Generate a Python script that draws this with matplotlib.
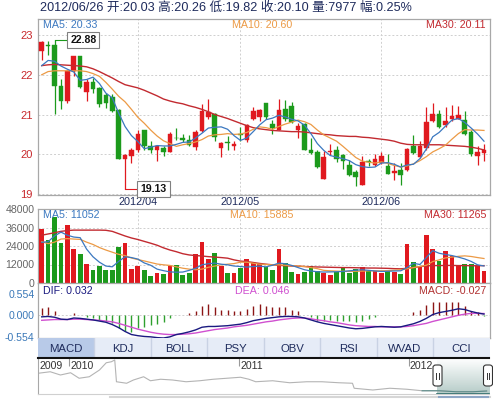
import numpy as np
import matplotlib.pyplot as plt
from matplotlib.colors import LinearSegmentedColormap
from matplotlib.patches import Rectangle, FancyBboxPatch

plt.rcParams['font.family'] = ['Liberation Sans', 'Noto Sans CJK SC', 'DejaVu Sans']

# daily candles, 2012/03/12 .. 2012/06/26
opens = [22.61, 22.76, 22.74, 21.71, 21.35, 22.09, 22.46, 21.57, 21.83, 21.66,
         21.48, 21.44, 21.12, 19.89, 19.95, 20.10, 20.60, 20.20, 20.10, 20.15,
         20.07, 20.42, 20.42, 20.37, 20.18, 20.58, 20.93, 21.02, 20.15, 20.30,
         20.20, 20.50, 20.36, 20.90, 20.93, 21.29, 20.76, 20.62, 21.14, 21.21,
         20.60, 20.75, 20.12, 20.06, 19.37, 20.05, 20.12, 19.99, 19.74, 19.55,
         19.24, 19.83, 19.72, 19.78, 19.70, 19.52, 19.60, 19.61, 20.20, 19.93,
         20.16, 20.85, 21.01, 20.73, 20.90, 20.90, 20.87, 20.56, 19.95, 20.03]
highs = [22.84, 22.85, 22.88, 21.90, 22.12, 22.47, 22.47, 21.90, 21.93, 21.70,
         21.54, 21.52, 21.13, 20.01, 20.15, 20.62, 20.62, 20.33, 20.23, 20.20,
         20.56, 20.66, 20.50, 20.48, 20.60, 21.27, 21.38, 21.05, 20.31, 20.45,
         20.33, 20.68, 20.76, 21.18, 21.15, 21.30, 20.86, 21.40, 21.37, 21.32,
         20.79, 20.78, 20.40, 20.10, 20.08, 20.27, 20.20, 20.01, 19.85, 19.60,
         19.95, 19.88, 20.01, 20.06, 20.00, 19.78, 19.78, 20.16, 20.49, 20.34,
         21.18, 21.29, 21.12, 21.18, 21.24, 21.22, 21.10, 20.60, 20.20, 20.26]
lows = [22.38, 22.50, 21.02, 21.13, 21.29, 21.96, 21.66, 21.33, 21.54, 21.20,
        21.17, 21.06, 19.88, 19.13, 19.79, 20.06, 20.10, 20.04, 19.82, 19.96,
        20.05, 20.35, 20.30, 20.20, 20.12, 20.55, 20.88, 20.33, 19.93, 20.10,
        20.10, 20.34, 20.30, 20.87, 20.85, 20.90, 20.52, 20.60, 20.85, 20.78,
        20.41, 20.10, 20.00, 19.65, 19.37, 19.98, 19.80, 19.62, 19.45, 19.20,
        19.22, 19.70, 19.70, 19.75, 19.50, 19.35, 19.24, 19.58, 20.00, 19.90,
        20.10, 20.80, 20.65, 20.68, 20.85, 20.88, 20.49, 19.95, 19.73, 19.82]
closes = [22.82, 22.73, 21.71, 21.35, 22.09, 22.46, 21.69, 21.82, 21.65, 21.27,
          21.29, 21.08, 19.89, 19.99, 20.12, 20.50, 20.20, 20.10, 20.20, 20.05,
          20.52, 20.40, 20.35, 20.24, 20.56, 21.10, 21.07, 20.43, 20.29, 20.28,
          20.27, 20.48, 20.73, 21.10, 21.12, 20.93, 20.65, 21.12, 20.90, 20.81,
          20.71, 20.12, 20.04, 19.68, 19.93, 20.09, 19.89, 19.84, 19.47, 19.42,
          19.81, 19.81, 19.89, 19.95, 19.51, 19.59, 19.48, 20.14, 20.04, 20.20,
          20.81, 21.01, 20.68, 20.85, 20.96, 20.99, 20.51, 20.01, 20.06, 20.10]

ma5 = [22.23, 22.36, 22.34, 22.22, 22.14, 22.07, 21.86, 21.88, 21.94, 21.78,
       21.54, 21.42, 21.04, 20.70, 20.47, 20.32, 20.14, 20.18, 20.22, 20.21,
       20.21, 20.25, 20.30, 20.31, 20.41, 20.53, 20.66, 20.68, 20.69, 20.63,
       20.47, 20.35, 20.41, 20.57, 20.74, 20.87, 20.91, 20.98, 20.94, 20.88,
       20.84, 20.73, 20.52, 20.27, 20.10, 19.97, 19.93, 19.89, 19.84, 19.74,
       19.69, 19.67, 19.68, 19.78, 19.79, 19.75, 19.68, 19.73, 19.75, 19.89,
       20.13, 20.44, 20.55, 20.71, 20.86, 20.90, 20.80, 20.66, 20.51, 20.33]
ma10 = [22.00, 22.08, 22.10, 22.10, 22.10, 22.10, 22.10, 22.08, 22.03, 21.96,
        21.81, 21.64, 21.46, 21.32, 21.13, 20.93, 20.78, 20.61, 20.46, 20.34,
        20.27, 20.20, 20.24, 20.27, 20.31, 20.37, 20.46, 20.49, 20.50, 20.52,
        20.50, 20.51, 20.55, 20.63, 20.69, 20.67, 20.63, 20.70, 20.76, 20.81,
        20.86, 20.82, 20.75, 20.61, 20.49, 20.41, 20.33, 20.20, 20.06, 19.92,
        19.83, 19.80, 19.78, 19.81, 19.77, 19.72, 19.68, 19.71, 19.76, 19.84,
        19.94, 20.06, 20.14, 20.23, 20.38, 20.52, 20.62, 20.61, 20.61, 20.60]
ma30 = [22.23, 22.25, 22.26, 22.25, 22.24, 22.23, 22.22, 22.20, 22.15, 22.08,
        22.00, 21.92, 21.83, 21.75, 21.71, 21.67, 21.61, 21.54, 21.47, 21.39,
        21.34, 21.30, 21.27, 21.22, 21.18, 21.13, 21.07, 21.00, 20.95, 20.90,
        20.84, 20.78, 20.72, 20.67, 20.64, 20.62, 20.60, 20.59, 20.58, 20.57,
        20.57, 20.56, 20.54, 20.52, 20.50, 20.49, 20.47, 20.46, 20.45, 20.45,
        20.43, 20.42, 20.40, 20.38, 20.36, 20.33, 20.28, 20.25, 20.24, 20.24,
        20.24, 20.24, 20.24, 20.23, 20.22, 20.21, 20.20, 20.18, 20.15, 20.11]

volumes = [34900, 27900, 42900, 25700, 37500, 22100, 18600, 12400, 8600, 11100,
           8600, 8600, 23100, 25700, 9200, 11100, 8600, 4700, 6400, 6000,
           11100, 11800, 5400, 6400, 18900, 26400, 15600, 19300, 11100, 6400,
           6400, 9600, 15600, 12900, 12900, 10700, 8600, 22100, 12900, 7100,
           6000, 6900, 11100, 7500, 6400, 4900, 6900, 10100, 6400, 9200,
           10700, 7500, 8100, 6400, 8100, 7100, 6000, 25100, 13900, 10700,
           31000, 22000, 14400, 20500, 17500, 11100, 12200, 12200, 11100, 7977]
vol_ma5 = [26400, 26800, 30500, 33000, 31000, 29800, 29400, 22000, 17000, 13500,
           11000, 10500, 14000, 17000, 16500, 15500, 13000, 11500, 9000, 8000,
           7200, 7000, 7100, 8200, 9500, 11800, 12500, 12900, 12200, 11800,
           11000, 10700, 10300, 10700, 10900, 10500, 11500, 12900, 12500, 11400,
           10000, 8600, 7800, 7300, 7100, 7200, 7300, 7500, 7900, 8300,
           8600, 8200, 7800, 7500, 7600, 7800, 7900, 10000, 12800, 12000,
           16500, 21000, 19300, 18500, 17800, 16800, 15600, 14000, 11800, 11052]
vol_ma10 = [26800, 25500, 26500, 28500, 28800, 28500, 28300, 26500, 25000, 23000,
            21400, 20000, 18600, 17800, 16200, 15200, 14300, 13300, 12300, 11800,
            11400, 10500, 9600, 9000, 8600, 9000, 10200, 11000, 11800, 12200,
            12600, 13500, 13500, 12800, 12200, 12000, 11800, 11800, 11500, 11200,
            11000, 10700, 10000, 9300, 8200, 7900, 7700, 7600, 7500, 7600,
            7700, 7900, 7900, 7900, 8000, 8300, 8600, 9200, 10000, 10700,
            11500, 13900, 15000, 16300, 16800, 17300, 17600, 17200, 16500, 15885]
vol_ma30 = [31000, 31800, 32600, 33500, 34000, 34300, 34300, 34300, 34300, 34300,
            34200, 33500, 32000, 30500, 29200, 28200, 27000, 25800, 24500, 22800,
            21400, 20300, 19000, 18200, 17800, 17500, 17100, 16800, 16500, 16100,
            15000, 14200, 13900, 13300, 12700, 12200, 11800, 11500, 11200, 11000,
            10900, 10700, 10500, 10400, 10300, 10200, 10100, 10000, 10000, 9900,
            9800, 9700, 9700, 9600, 9500, 9300, 9200, 9500, 10000, 10600,
            11100, 11300, 11300, 11400, 11400, 11300, 11300, 11200, 11200, 11265]

dif = [-0.04, -0.03, -0.05, -0.10, -0.11, -0.07, -0.08, -0.10, -0.12, -0.15,
       -0.18, -0.24, -0.32, -0.42, -0.50, -0.53, -0.55, -0.56, -0.58, -0.59,
       -0.56, -0.50, -0.47, -0.43, -0.38, -0.31, -0.29, -0.29, -0.28, -0.27,
       -0.25, -0.23, -0.19, -0.14, -0.11, -0.08, -0.06, -0.04, -0.03, -0.03,
       -0.04, -0.07, -0.12, -0.17, -0.21, -0.24, -0.27, -0.30, -0.33, -0.35,
       -0.34, -0.32, -0.30, -0.29, -0.30, -0.31, -0.30, -0.26, -0.22, -0.16,
       -0.08, 0.02, 0.07, 0.10, 0.13, 0.17, 0.15, 0.10, 0.06, 0.032]
dea = [-0.13, -0.12, -0.11, -0.11, -0.11, -0.10, -0.10, -0.11, -0.12, -0.13,
       -0.15, -0.17, -0.21, -0.26, -0.31, -0.36, -0.40, -0.44, -0.47, -0.49,
       -0.50, -0.50, -0.49, -0.48, -0.46, -0.43, -0.40, -0.37, -0.35, -0.33,
       -0.30, -0.28, -0.26, -0.23, -0.20, -0.17, -0.15, -0.12, -0.10, -0.08,
       -0.07, -0.07, -0.09, -0.12, -0.14, -0.17, -0.19, -0.22, -0.25, -0.27,
       -0.28, -0.29, -0.29, -0.30, -0.30, -0.30, -0.30, -0.29, -0.27, -0.24,
       -0.21, -0.16, -0.12, -0.08, -0.04, 0.00, 0.03, 0.05, 0.05, 0.046]
macd_hist = [0.19, 0.21, 0.12, 0.02, 0.0, 0.06, 0.0, -0.05, -0.07, -0.11,
             -0.16, -0.20, -0.33, -0.42, -0.43, -0.33, -0.31, -0.24, -0.23, -0.17,
             -0.07, 0.0, 0.0, 0.05, 0.10, 0.23, 0.29, 0.21, 0.15, 0.13,
             0.10, 0.10, 0.17, 0.24, 0.29, 0.23, 0.21, 0.21, 0.21, 0.15,
             0.12, 0.0, -0.05, -0.14, -0.14, -0.12, -0.14, -0.16, -0.16, -0.17,
             -0.14, -0.09, -0.05, 0.0, 0.0, 0.0, 0.0, 0.02, 0.09, 0.15,
             0.26, 0.35, 0.35, 0.35, 0.35, 0.35, 0.23, 0.12, 0.09, -0.027]

date_pos = [15, 31, 53]
date_labels = ['2012/04', '2012/05', '2012/06']

# overview strip (history since late 2009)
ov_year = [2009.82, 2009.89, 2009.95, 2010.01, 2010.06, 2010.12, 2010.18, 2010.22, 2010.25, 2010.27,
           2010.28, 2010.34, 2010.38, 2010.44, 2010.48, 2010.54, 2010.61, 2010.69, 2010.77, 2010.85,
           2010.93, 2011.01, 2011.06, 2011.10, 2011.20, 2011.30, 2011.40, 2011.49, 2011.59, 2011.67,
           2011.68, 2011.79, 2011.89, 2011.99, 2012.08, 2012.18, 2012.28, 2012.38, 2012.46]
ov_price = [33.6, 34.8, 32.2, 34.0, 29.6, 30.8, 36.2, 42.0, 42.8, 44.2,
            26.8, 25.6, 28.2, 30.8, 27.6, 28.8, 28.2, 26.8, 27.6, 28.8,
            29.6, 30.4, 28.8, 26.8, 27.6, 26.0, 26.8, 26.8, 26.0, 25.6,
            21.6, 20.2, 21.6, 20.8, 19.6, 19.6, 18.8, 18.8, 19.4]
ov_years = [2010, 2011, 2012]

tabs = ['MACD', 'KDJ', 'BOLL', 'PSY', 'OBV', 'RSI', 'WVAD', 'CCI']

title = '2012/06/26 开:20.03 高:20.26 低:19.82 收:20.10 量:7977 幅:0.25%'

RED = '#e0191f'
GREEN = '#1c9a1c'
C5, C10, C30 = '#3b78c0', '#ec9a45', '#c22a30'
NAVY = '#1e2b5c'
FRAME = '#a8a8a8'

W, H = 493, 399
fig = plt.figure(figsize=(W / 100, H / 100), dpi=100)


def rect(x0, y0, x1, y1):
    return [x0 / W, 1 - y1 / H, (x1 - x0) / W, (y1 - y0) / H]


def ptext(x, y, s, **kw):
    fig.text(x / W, 1 - y / H, s, **kw)


x = np.arange(len(closes))
o, h, l, c = map(np.array, (opens, highs, lows, closes))
up = c >= o
cols = np.where(up, RED, GREEN)
xlim = (-0.58, 69.86)

# ---- price panel
ax_p = fig.add_axes(rect(38, 19, 489.5, 195))
ax_p.vlines(x, l, h, colors=cols, lw=0.9, zorder=3)
ax_p.bar(x, np.maximum(np.abs(c - o), 0.015), bottom=np.minimum(o, c), width=0.72,
         color=cols, edgecolor=cols, lw=0.3, zorder=4)
ax_p.plot(x, ma30, color=C30, lw=1.0, zorder=5)
ax_p.plot(x, ma10, color=C10, lw=0.9, zorder=5)
ax_p.plot(x, ma5, color=C5, lw=0.9, zorder=5)
ax_p.set_xlim(*xlim)
ax_p.set_ylim(18.977, 23.402)
ax_p.set_yticks([19, 20, 21, 22, 23])
ax_p.set_xticks(date_pos)
ax_p.set_xticklabels(date_labels)
ax_p.tick_params(axis='y', length=0, pad=4, labelsize=8, labelcolor='#c8282c')
ax_p.tick_params(axis='x', length=0, pad=1.5, labelsize=7.8, labelcolor=NAVY)
ax_p.grid(True, color='#cfcfcf', ls=(0, (2, 2)), lw=0.7)
ax_p.set_axisbelow(True)

# extreme markers
ih, il = int(np.argmax(h)), int(np.argmin(l))
ax_p.plot([ih, ih + 2.4], [h[ih], h[ih]], color=cols[ih], lw=0.8, zorder=6)
ax_p.text(ih + 2.45, h[ih], f'{h[ih]:.2f}', ha='left', va='center', fontsize=7.6,
          fontweight='bold', color='#111111', zorder=7,
          bbox=dict(boxstyle='square,pad=0.28', fc='white', ec='#808080', lw=0.8))
ax_p.plot([il, il + 2.35], [l[il], l[il]], color=cols[il], lw=0.8, zorder=6)
ax_p.text(il + 2.4, l[il], f'{l[il]:.2f}', ha='left', va='center', fontsize=7.6,
          fontweight='bold', color='#111111', zorder=7,
          bbox=dict(boxstyle='square,pad=0.28', fc='white', ec='#808080', lw=0.8))

# ---- volume panel
ax_v = fig.add_axes(rect(38, 209, 489.5, 283))
ax_v.bar(x, volumes, width=0.74, color=cols, zorder=3)
ax_v.plot(x, vol_ma30, color=C30, lw=1.0, zorder=4)
ax_v.plot(x, vol_ma10, color=C10, lw=0.9, zorder=4)
ax_v.plot(x, vol_ma5, color=C5, lw=0.9, zorder=4)
ax_v.set_xlim(*xlim)
ax_v.set_ylim(0, 48000)
ax_v.set_yticks([0, 12000, 24000, 36000, 48000])
ax_v.set_xticks(date_pos)
ax_v.set_xticklabels([])
ax_v.tick_params(axis='y', length=0, pad=2.5, labelsize=7.6, labelcolor='#666666')
ax_v.tick_params(axis='x', length=0)
ax_v.grid(True, color='#cfcfcf', ls=(0, (2, 2)), lw=0.7)
ax_v.set_axisbelow(True)

# ---- MACD panel
ax_m = fig.add_axes(rect(38, 283, 489.5, 338))
mh = np.array(macd_hist)
ax_m.vlines(x, 0, mh, colors=np.where(mh >= 0, '#8c1515', '#2ea02e'), lw=1.0, zorder=3)
ax_m.plot(x, dea, color='#d050d0', lw=1.0, zorder=4)
ax_m.plot(x, dif, color='#1a1a80', lw=1.0, zorder=4)
ax_m.axhline(0, color='#cfcfcf', ls=(0, (2, 2)), lw=0.7, zorder=1)
ax_m.set_xlim(*xlim)
ax_m.set_ylim(-0.59, 0.84)
ax_m.set_yticks([-0.554, 0, 0.554])
ax_m.set_yticklabels(['-0.554', '0.000', '0.554'])
ax_m.set_xticks([])
ax_m.tick_params(axis='y', length=0, pad=2.5, labelsize=7.6, labelcolor='#3a78b8')

for ax in (ax_p, ax_v, ax_m):
    for s in ax.spines.values():
        s.set_color(FRAME)
        s.set_linewidth(0.9)

# legends
ptext(43, 25, 'MA5: 20.33', color=C5, fontsize=7.7, va='center')
ptext(262, 25, 'MA10: 20.60', color=C10, fontsize=7.7, va='center', ha='center')
ptext(486, 25, 'MA30: 20.11', color=C30, fontsize=7.7, va='center', ha='right')
ptext(43, 215.5, 'MA5: 11052', color=C5, fontsize=7.7, va='center')
ptext(262, 215.5, 'MA10: 15885', color=C10, fontsize=7.7, va='center', ha='center')
ptext(486, 215.5, 'MA30: 11265', color=C30, fontsize=7.7, va='center', ha='right')
ptext(43, 290.5, 'DIF: 0.032', color='#1a1a80', fontsize=7.7, va='center')
ptext(262, 290.5, 'DEA: 0.046', color='#d050d0', fontsize=7.7, va='center', ha='center')
ptext(486, 290.5, 'MACD: -0.027', color='#b03030', fontsize=7.7, va='center', ha='right')

ptext(40, 7.5, title, color=NAVY, fontsize=9.1, va='center')

# ---- tabs
ax_t = fig.add_axes(rect(38, 338, 489.5, 358))
ax_t.set_xlim(0, len(tabs))
ax_t.set_ylim(0, 1)
for k, name in enumerate(tabs):
    ax_t.add_patch(Rectangle((k, 0), 1, 1, fc='#b8cae8' if k == 0 else '#e6ecf7',
                             ec='none'))
    if k > 0:
        ax_t.axvline(k, color='#c9d2e4', lw=1.0)
    ax_t.text(k + 0.5, 0.45, name, ha='center', va='center', fontsize=8.2, color=NAVY)
ax_t.axis('off')

# ---- overview
ax_o = fig.add_axes(rect(38, 358, 489.5, 394))
ox0, ox1 = 2009.818, 2012.477
oy0, oy1 = 17, 45.8
sel_lo = 2012.165
grad = np.linspace(0, 1, 64).reshape(-1, 1)
ax_o.imshow(grad, extent=[sel_lo, ox1, oy0, oy1], origin='upper', aspect='auto',
            cmap=LinearSegmentedColormap.from_list('sel', ['#ffffff', '#b6ccc8']), zorder=0)
ax_o.plot(ov_year, ov_price, color='#b4b4b4', lw=0.8, zorder=2)
oy = np.array(ov_year)
ax_o.plot(oy[oy >= sel_lo - 0.1], np.array(ov_price)[oy >= sel_lo - 0.1], color='#5b8c8a',
          lw=0.8, zorder=3)
ax_o.plot([sel_lo, ox1], [oy0 + 0.4, oy0 + 0.4], color='#2f6e6c', lw=1.2, zorder=3)
ax_o.set_xlim(ox0, ox1)
ax_o.set_ylim(oy0, oy1)
ax_o.set_xticks([])
ax_o.set_yticks([])
ax_o.vlines(ov_years, oy1 - 6, oy1, color='#999999', lw=0.8)
ax_o.text(ox0 + 0.008, oy1 - 2.2, '2009', fontsize=7.6, color='#333333', va='top')
for yr in ov_years:
    ax_o.text(yr + 0.008, oy1 - 2.2, str(yr), fontsize=7.6, color='#333333', va='top')
for side in ('right',):
    ax_o.spines[side].set_visible(False)
ax_o.spines['top'].set_color('#111111')
ax_o.spines['top'].set_linewidth(1.5)
ax_o.spines['left'].set_color(FRAME)
ax_o.spines['bottom'].set_color('#d0d0d0')

# selection handles
for hx in (437.5, 488.0):
    fig.patches.append(FancyBboxPatch(((hx - 4.5) / W, 1 - 386 / H), 9 / W, 21 / H,
                                      boxstyle='round,pad=0,rounding_size=0.006',
                                      fc='white', ec='#333333', lw=0.8,
                                      transform=fig.transFigure, figure=fig, zorder=10))
    for dx in (-1.3, 1.3):
        fig.lines.append(plt.Line2D([(hx + dx) / W] * 2, [1 - 379 / H, 1 - 373 / H],
                                    color='#333333', lw=0.7, transform=fig.transFigure,
                                    figure=fig, zorder=11))

# scrollbar
fig.lines.append(plt.Line2D([110 / W, 490 / W], [1 - 396.5 / H] * 2, color='#d6d6d6',
                            lw=1.5, transform=fig.transFigure, figure=fig))
fig.lines.append(plt.Line2D([439 / W, 488 / W], [1 - 396.5 / H] * 2, color='#8ea7c6',
                            lw=1.5, transform=fig.transFigure, figure=fig))

fig.savefig('out.png', dpi=100)
